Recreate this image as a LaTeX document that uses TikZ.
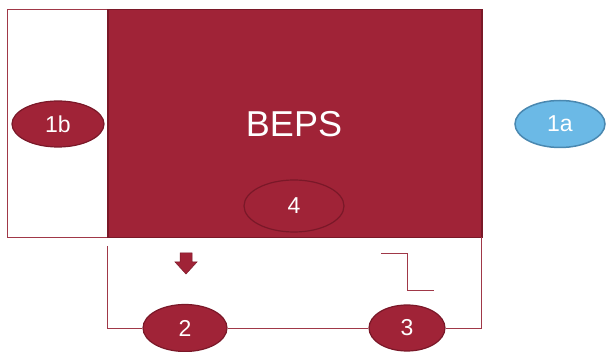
\documentclass[tikz,border=0pt]{standalone}
\usepackage{fontspec}
\setmainfont{Liberation Sans}
\usetikzlibrary{shapes.geometric}
\definecolor{beps}{HTML}{A02337}
\definecolor{bepsdark}{HTML}{7A1828}
\definecolor{lineclr}{HTML}{A03848}
\definecolor{blue1}{HTML}{6BB9E6}
\definecolor{blue2}{HTML}{4A88B0}
\tikzset{
  redell/.style={ellipse, draw=bepsdark, line width=1.2pt, fill=beps, text=white, inner sep=0pt, font=\fontsize{23}{23}\selectfont},
  conn/.style={draw=lineclr, line width=0.9pt},
  blockarrow/.style={fill=beps, draw=bepsdark, line width=0.5pt, line join=miter},
}
\begin{document}
\begin{tikzpicture}[x=1pt,y=-1pt]
\useasboundingbox (0,0) rectangle (606,352);
% left thin box
\draw[conn] (7,9) rectangle (107,237);
% main box
\node[draw=bepsdark, line width=1.5pt, fill=beps, minimum width=374pt, minimum height=228pt, inner sep=0pt, anchor=north west] (main) at (107,9) {};
\node[text=white, font=\fontsize{36}{36}\selectfont] (beps) at (294,124) {BEPS};
\node[redell, minimum width=100pt, minimum height=52pt] (n4) at (294,206) {4};
% 1b
\node[redell, minimum width=92pt, minimum height=46pt] (n1b) at (58,124) {1b};
% 1a
\node[ellipse, draw=blue2, line width=1.5pt, fill=blue1, text=white, inner sep=0pt, minimum width=90pt, minimum height=47pt, font=\fontsize{23}{23}\selectfont] (n1a) at (560,124) {1a};
% bottom ellipses
\node[redell, minimum width=84pt, minimum height=47pt] (n2) at (185,328) {2};
\node[redell, minimum width=76pt, minimum height=46pt] (n3) at (407,328) {3};
% connectors
\coordinate (s) at (107,246);
\coordinate (sc) at (107,328);
\coordinate (e1) at (481,328);
\coordinate (e2) at (481,237);
\draw[conn] (s) -- (sc) -- (n2.west);
\draw[conn] (n2.east) -- (n3.west);
\draw[conn] (n3.east) -- (e1) -- (e2);
% step line
\coordinate (t1) at (381,253);
\coordinate (t2) at (407,253);
\coordinate (t3) at (407,290);
\coordinate (t4) at (434,290);
\draw[conn] (t1) -- (t2) -- (t3) -- (t4);
% down block arrow
\draw[blockarrow] (180,253) -- (192,253) -- (192,262) -- (197,262) -- (186,274) -- (175,262) -- (180,262) -- cycle;
\end{tikzpicture}
\end{document}
